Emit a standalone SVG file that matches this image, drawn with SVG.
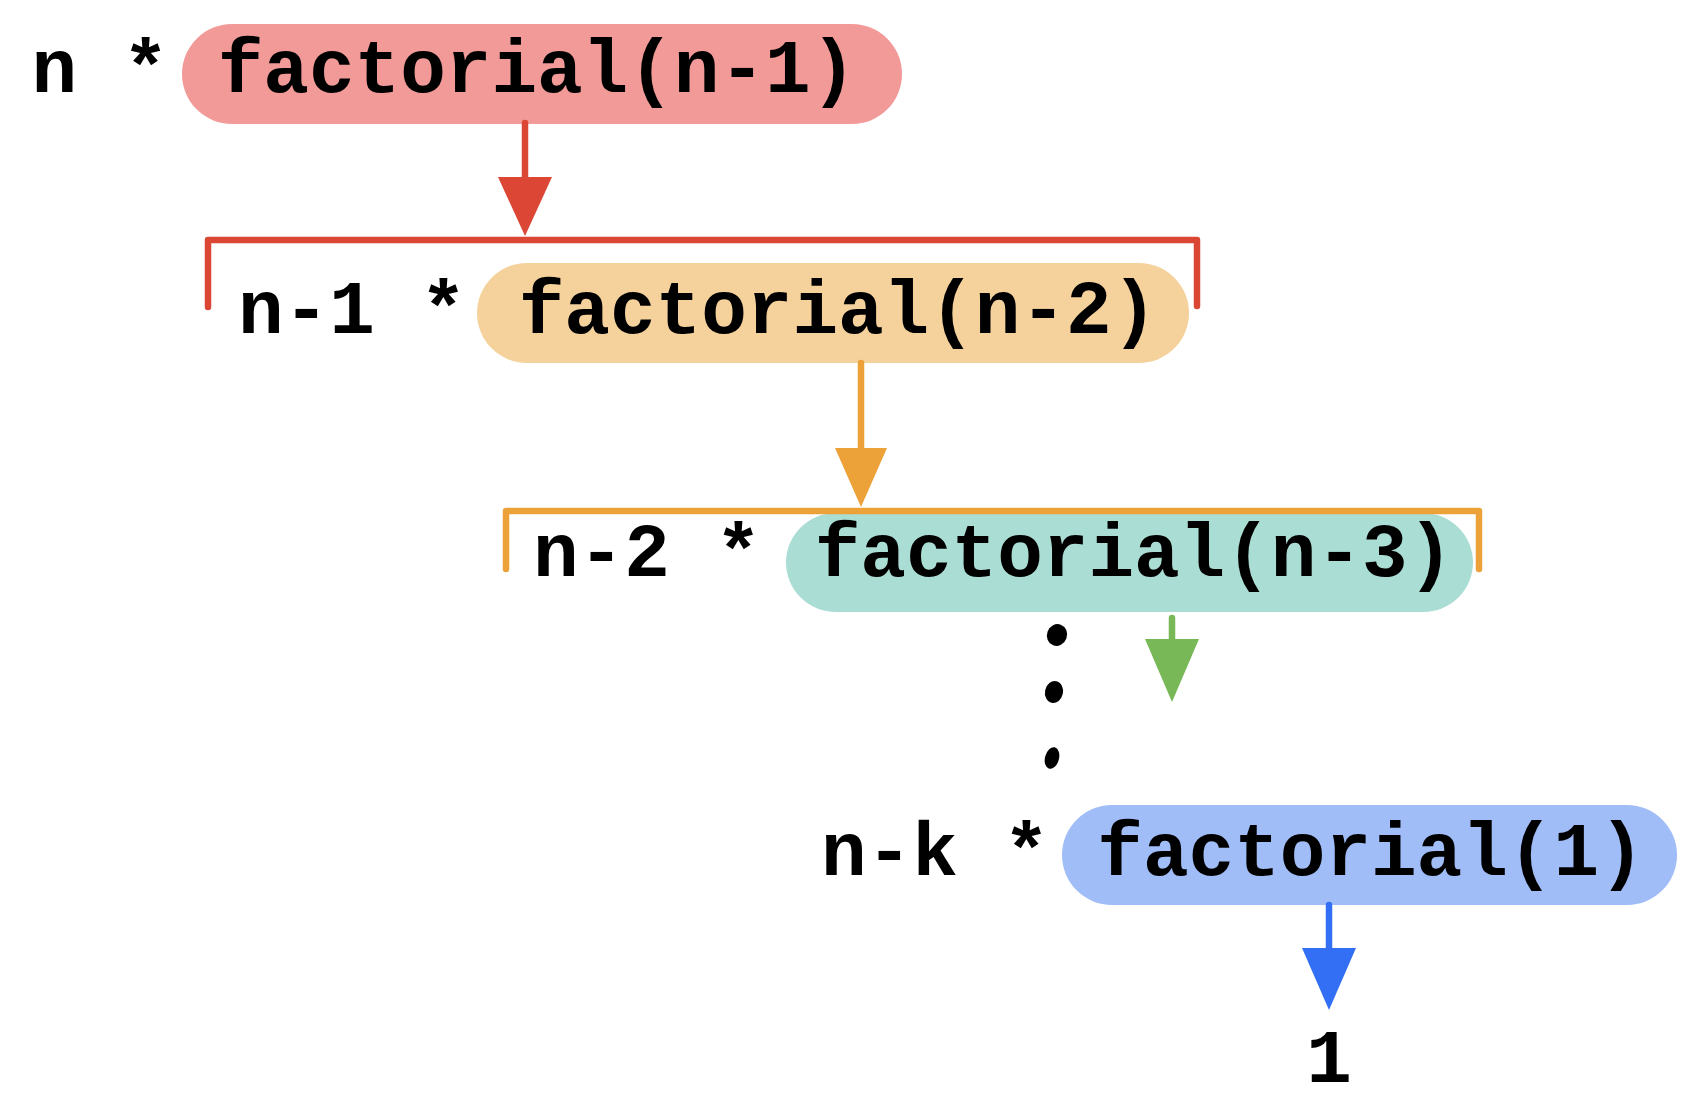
<svg xmlns="http://www.w3.org/2000/svg" width="1708" height="1106" viewBox="0 0 1708 1106">
<style>
.t{font-family:"Liberation Mono","Courier New",monospace;font-weight:bold;font-size:76px;fill:#000;text-anchor:middle}
.red{stroke:#DC4735;stroke-width:6.5;fill:none;stroke-linecap:round;stroke-linejoin:round}
.org{stroke:#ECA239;stroke-width:6.5;fill:none;stroke-linecap:round;stroke-linejoin:round}
.grn{stroke:#78B857;stroke-width:6.5;fill:none;stroke-linecap:round}
.blu{stroke:#336FF5;stroke-width:6.5;fill:none;stroke-linecap:round}
</style>
<rect width="1708" height="1106" fill="#fff"/>
<g id="row1">
<rect x="182" y="24" width="720" height="100" rx="50" fill="#F19A98"/>
<text class="t" x="100" y="92">n *</text>
<text class="t" x="537" y="92">factorial(n-1)</text>
</g>
<g id="row2">
<rect x="477" y="263" width="712" height="100" rx="50" fill="#F5D29C"/>
<text class="t" x="352" y="333">n-1 *</text>
<text class="t" x="838" y="333">factorial(n-2)</text>
</g>
<g id="row3">
<rect x="786" y="513" width="687" height="99" rx="50" fill="#AADDD3"/>
<text class="t" x="647" y="576">n-2 *</text>
<text class="t" x="1134" y="576">factorial(n-3)</text>
</g>
<g id="row4">
<rect x="1062" y="805" width="615" height="100" rx="50" fill="#A0BDF8"/>
<text class="t" x="935" y="875">n-k *</text>
<text class="t" x="1371" y="875">factorial(1)</text>
</g>
<g id="result">
<text class="t" x="1329" y="1082">1</text>
</g>
<g id="ellipsis" fill="#000">
<ellipse cx="1057" cy="635" rx="10" ry="11" transform="rotate(20 1057 635)"/>
<ellipse cx="1054" cy="692" rx="9" ry="11" transform="rotate(12 1054 692)"/>
<ellipse cx="1052" cy="758" rx="7" ry="11" transform="rotate(15 1052 758)"/>
</g>
<g id="connectors">
<path class="red" d="M525 123V178"/>
<polygon points="498,177 552,177 525,236" fill="#DC4735"/>
<path class="red" d="M208 307V240H1197V306"/>
<path class="org" d="M861 363V449"/>
<polygon points="835,448 887,448 861,507" fill="#ECA239"/>
<path class="org" d="M506 569V511H1479V569"/>
<path class="grn" d="M1172 618V640"/>
<polygon points="1145,639 1199,639 1172,702" fill="#78B857"/>
<path class="blu" d="M1329 905V949"/>
<polygon points="1302,948 1356,948 1329,1010" fill="#336FF5"/>
</g>
</svg>
